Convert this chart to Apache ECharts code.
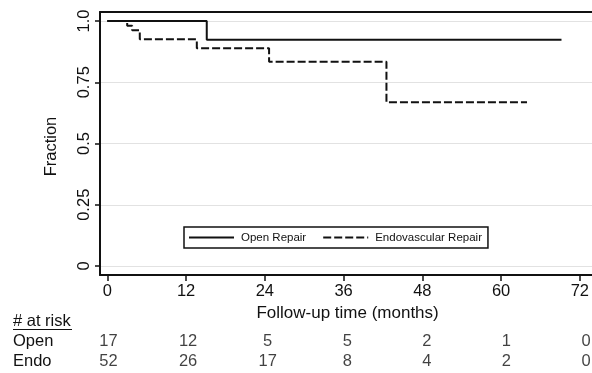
<!DOCTYPE html>
<html>
<head>
<meta charset="utf-8">
<script src="https://cdn.jsdelivr.net/npm/echarts@6/dist/echarts.min.js"></script>
<style>
html,body{margin:0;padding:0;background:#fff;}
#c{width:592px;height:373px;}
</style>
</head>
<body>
<div id="c"></div>
<script>
// ---- data ----
var openTimes = [0, 15.0, 68.5];
var openSurv  = [1.0, 0.923, 0.923];
var endoTimes = [0, 3.0, 3.75, 4.9, 13.5, 24.4, 42.1, 63.3];
var endoSurv  = [1.0, 0.981, 0.962, 0.925, 0.889, 0.834, 0.668, 0.668];
var seriesNames = ['Open Repair', 'Endovascular Repair'];
var xTickLabels = ['0', '12', '24', '36', '48', '60', '72'];
var yTickLabels = ['0', '0.25', '0.5', '0.75', '1.0'];
var riskTimes = [0, 12, 24, 36, 48, 60, 72];
var riskGroups = ['Open', 'Endo'];
var riskOpen = [17, 12, 5, 5, 2, 1, 0];
var riskEndo = [52, 26, 17, 8, 4, 2, 0];

// ---- build ----
var FONT = 'Liberation Sans, Arial, Helvetica, sans-serif';
var INK = '#111';
function zip(a, b) { return a.map(function (v, i) { return [v, b[i]]; }); }
var riskData = [];
riskTimes.forEach(function (t, i) {
  riskData.push([t, riskGroups[0], riskOpen[i]]);
  riskData.push([t, riskGroups[1], riskEndo[i]]);
});

var X_MIN = -1.1, X_MAX = 73.1, Y_MIN = -0.0367, Y_MAX = 1.0367;
var hidden = { show: false };
var noLine = { show: false, onZero: false };

var chart = echarts.init(document.getElementById('c'), null, { renderer: 'canvas' });
chart.setOption({
  animation: false,
  backgroundColor: '#fff',
  textStyle: { fontFamily: FONT, color: INK },
  grid: [
    { left: 100, right: 0, top: 12, bottom: 98 },          // main plot
    { left: 100, right: 0, top: 21, bottom: 107 },         // y ticks 0..1
    { left: 107.3, right: 7.3, top: 12, bottom: 98 },      // x ticks 0..72
    { left: 108.5, right: 6, top: 330.75, bottom: 1.25 }   // at-risk table
  ],
  legend: {
    data: seriesNames,
    left: 184, top: 227,
    orient: 'horizontal',
    itemWidth: 45, itemHeight: 10, itemGap: 16,
    padding: [4.5, 6, 4.5, 4],
    borderColor: INK, borderWidth: 1.5, borderRadius: 0,
    itemStyle: { color: 'rgba(0,0,0,0)', borderColor: 'rgba(0,0,0,0)', borderWidth: 0 },
    textStyle: { fontFamily: FONT, fontSize: 11.5, color: INK, padding: [0, 0, 0, 2] }
  },
  xAxis: [
    { gridIndex: 0, type: 'value', min: X_MIN, max: X_MAX,
      axisLine: { show: true, onZero: false, lineStyle: { color: INK, width: 2 } },
      axisTick: hidden, axisLabel: hidden, splitLine: hidden },
    { gridIndex: 0, type: 'value', position: 'top', min: X_MIN, max: X_MAX,
      axisLine: { show: true, onZero: false, lineStyle: { color: INK, width: 2 } },
      axisTick: hidden, axisLabel: hidden, splitLine: hidden },
    { gridIndex: 1, type: 'value', min: 0, max: 1, show: false },
    { gridIndex: 2, type: 'value', min: 0, max: 72, interval: 12,
      axisLine: noLine,
      axisTick: { show: true, length: 6, lineStyle: { color: INK, width: 1.5 } },
      axisLabel: { show: true, margin: 8, fontSize: 16.5, fontFamily: FONT, color: INK,
        formatter: function (v, i) { return xTickLabels[i]; } },
      splitLine: hidden,
      name: 'Follow-up time (months)', nameLocation: 'middle', nameGap: 22,
      nameTextStyle: { fontSize: 17, fontFamily: FONT, color: INK, padding: [0, 0, 0, 8] } },
    { gridIndex: 3, type: 'value', min: 0, max: 72, show: false }
  ],
  yAxis: [
    { gridIndex: 0, type: 'value', min: Y_MIN, max: Y_MAX,
      axisLine: { show: true, onZero: false, lineStyle: { color: INK, width: 2 } },
      axisTick: hidden, axisLabel: hidden, splitLine: hidden },
    { gridIndex: 1, type: 'value', min: 0, max: 1, interval: 0.25,
      axisLine: noLine,
      axisTick: { show: true, length: 5, lineStyle: { color: INK, width: 1.5 } },
      axisLabel: { show: true, rotate: 90, margin: 7, fontSize: 16.5, fontFamily: FONT, color: INK,
        formatter: function (v, i) { return yTickLabels[i]; } },
      splitLine: { show: true, lineStyle: { color: '#e2e2e2', width: 1 } },
      name: 'Fraction', nameLocation: 'middle', nameRotate: 90, nameGap: 40,
      nameTextStyle: { fontSize: 16.5, fontFamily: FONT, color: INK, padding: [0, 6, 0, 0] } },
    { gridIndex: 2, type: 'value', min: 0, max: 1, show: false },
    { gridIndex: 3, type: 'category', data: riskGroups, inverse: true,
      axisLine: noLine, axisTick: hidden, splitLine: hidden,
      axisLabel: { show: true, interval: 0, align: 'left', margin: 95.5, fontSize: 16.5, fontFamily: FONT, color: INK } }
  ],
  graphic: [
    { type: 'text', left: 13, top: 313,
      style: { text: '# at risk', fontSize: 16.5, fontFamily: FONT, fill: INK } },
    { type: 'line', shape: { x1: 13, y1: 329.5, x2: 72, y2: 329.5 },
      style: { stroke: INK, lineWidth: 1.2 } }
  ],
  series: [
    { name: seriesNames[0], type: 'line', xAxisIndex: 0, yAxisIndex: 0,
      step: 'end', symbol: 'none', data: zip(openTimes, openSurv),
      lineStyle: { color: INK, width: 2, type: 'solid' }, itemStyle: { color: INK } },
    { name: seriesNames[1], type: 'line', xAxisIndex: 0, yAxisIndex: 0,
      step: 'end', symbol: 'none', data: zip(endoTimes, endoSurv),
      lineStyle: { color: INK, width: 2, type: [8, 3] }, itemStyle: { color: INK } },
    { name: 'risk', type: 'scatter', xAxisIndex: 4, yAxisIndex: 3,
      symbolSize: 0, data: riskData, encode: { x: 0, y: 1 },
      label: { show: true, position: 'inside', fontSize: 16.5, fontFamily: FONT, color: INK,
        formatter: function (p) { return String(p.value[2]); } },
      silent: true }
  ]
});
</script>
</body>
</html>
